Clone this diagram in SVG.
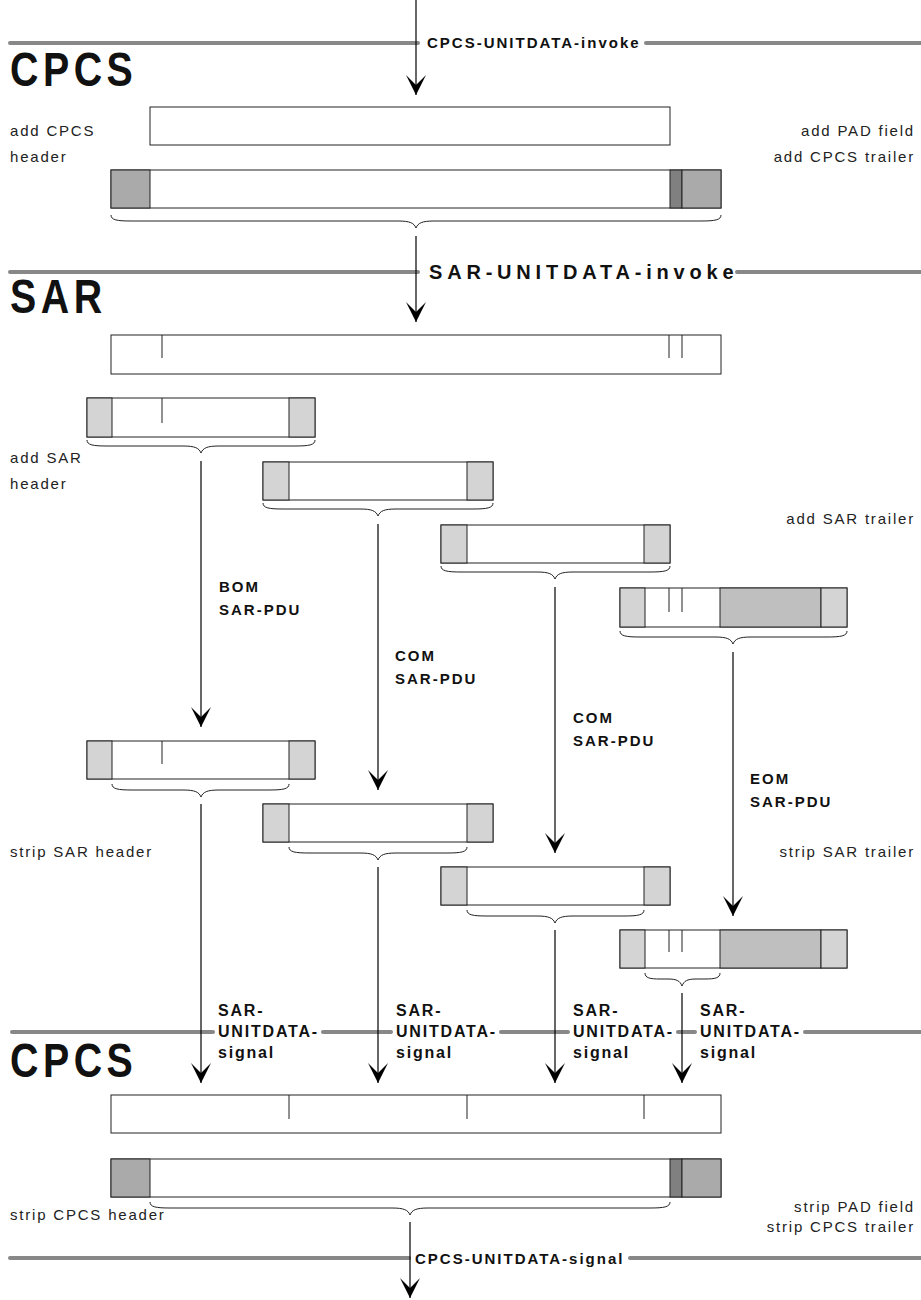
<svg xmlns="http://www.w3.org/2000/svg" width="921" height="1300" viewBox="0 0 921 1300">
<style>
.bg{fill:#fff}
.box{fill:#fff;stroke:#222;stroke-width:1}
.sh{fill:#d4d4d4;stroke:#222;stroke-width:1}
.ch{fill:#aaa;stroke:#222;stroke-width:1}
.pad{fill:#808080;stroke:#222;stroke-width:1}
.ep{fill:#bfbfbf;stroke:#222;stroke-width:1}
.tick{stroke:#222;stroke-width:1}
.brace{fill:none;stroke:#222;stroke-width:1}
.layer{stroke:#888;stroke-width:4;stroke-linecap:round}
.arr{stroke:#000;stroke-width:1.2;fill:none;marker-end:url(#ah)}
text{font-family:"Liberation Sans",Arial,Helvetica,sans-serif;fill:#111}
.lbl{font-size:15px;letter-spacing:1.8px;fill:#222}
.r{text-anchor:end}
.b{font-size:15px;font-weight:bold;letter-spacing:2px}
.s{font-size:16px;font-weight:bold;letter-spacing:1.8px}
.big{font-size:48px;font-weight:bold;letter-spacing:5.5px}
.sarinv{font-size:20px;font-weight:bold;letter-spacing:4.8px}
</style>
<defs>
<marker id="ah" markerUnits="userSpaceOnUse" markerWidth="22" markerHeight="22" viewBox="-21 -11 22 22" refX="0" refY="0" orient="auto">
<path d="M0,0 L-20,-10 L-10,0 L-20,10 Z" fill="#000"/>
</marker>
</defs>
<rect class="bg" x="0" y="0" width="921" height="1300"/>

<g id="layers">
<line class="layer" x1="10" y1="43" x2="418" y2="43"/>
<line class="layer" x1="646" y1="43" x2="921" y2="43"/>
<line class="layer" x1="10" y1="272" x2="418" y2="272"/>
<line class="layer" x1="737" y1="272" x2="921" y2="272"/>
<line class="layer" x1="12" y1="1032" x2="213" y2="1032"/>
<line class="layer" x1="323" y1="1032" x2="391" y2="1032"/>
<line class="layer" x1="501" y1="1032" x2="568" y2="1032"/>
<line class="layer" x1="678" y1="1032" x2="695" y2="1032"/>
<line class="layer" x1="805" y1="1032" x2="921" y2="1032"/>
<line class="layer" x1="10" y1="1258" x2="409" y2="1258"/>
<line class="layer" x1="630" y1="1258" x2="921" y2="1258"/>
</g>

<g id="layer-labels">
<text class="big" transform="translate(10,86) scale(0.82,1)">CPCS</text>
<text class="big" transform="translate(10,313) scale(0.82,1)">SAR</text>
<text class="big" transform="translate(10,1077) scale(0.82,1)">CPCS</text>
</g>

<g id="cpcs-sdu">
<rect class="box" x="150" y="107" width="520" height="38"/>
</g>
<g id="cpcs-pdu">
<rect class="box" x="111" y="170" width="610" height="38"/>
<rect class="ch" x="111" y="170" width="39" height="38"/>
<rect class="pad" x="670" y="170" width="12" height="38"/>
<rect class="ch" x="682" y="170" width="39" height="38"/>
</g>

<g id="sar-sdu">
<rect class="box" x="111" y="335" width="610" height="39"/>
<line class="tick" x1="162" y1="335" x2="162" y2="358"/>
<line class="tick" x1="669" y1="335" x2="669" y2="358"/>
<line class="tick" x1="682" y1="335" x2="682" y2="358"/>
</g>

<g id="bom-tx">
<rect class="box" x="87" y="398" width="228" height="39"/>
<rect class="sh" x="87" y="398" width="25" height="39"/>
<rect class="sh" x="289" y="398" width="26" height="39"/>
<line class="tick" x1="162" y1="398" x2="162" y2="423"/>
</g>
<g id="com1-tx">
<rect class="box" x="263" y="462" width="230" height="38"/>
<rect class="sh" x="263" y="462" width="26" height="38"/>
<rect class="sh" x="467" y="462" width="26" height="38"/>
</g>
<g id="com2-tx">
<rect class="box" x="441" y="525" width="229" height="38"/>
<rect class="sh" x="441" y="525" width="26" height="38"/>
<rect class="sh" x="644" y="525" width="26" height="38"/>
</g>
<g id="eom-tx">
<rect class="box" x="620" y="588" width="227" height="39"/>
<rect class="sh" x="620" y="588" width="25" height="39"/>
<rect class="ep" x="720" y="588" width="101" height="39"/>
<rect class="sh" x="821" y="588" width="26" height="39"/>
<line class="tick" x1="669" y1="588" x2="669" y2="612"/>
<line class="tick" x1="682" y1="588" x2="682" y2="612"/>
</g>

<g id="bom-rx">
<rect class="box" x="87" y="741" width="228" height="38"/>
<rect class="sh" x="87" y="741" width="25" height="38"/>
<rect class="sh" x="289" y="741" width="26" height="38"/>
<line class="tick" x1="162" y1="741" x2="162" y2="764"/>
</g>
<g id="com1-rx">
<rect class="box" x="263" y="804" width="230" height="38"/>
<rect class="sh" x="263" y="804" width="26" height="38"/>
<rect class="sh" x="467" y="804" width="26" height="38"/>
</g>
<g id="com2-rx">
<rect class="box" x="441" y="867" width="229" height="38"/>
<rect class="sh" x="441" y="867" width="26" height="38"/>
<rect class="sh" x="644" y="867" width="26" height="38"/>
</g>
<g id="eom-rx">
<rect class="box" x="620" y="930" width="227" height="38"/>
<rect class="sh" x="620" y="930" width="25" height="38"/>
<rect class="ep" x="720" y="930" width="101" height="38"/>
<rect class="sh" x="821" y="930" width="26" height="38"/>
<line class="tick" x1="669" y1="930" x2="669" y2="952"/>
<line class="tick" x1="682" y1="930" x2="682" y2="952"/>
</g>

<g id="cpcs-pdu-rx">
<rect class="box" x="111" y="1095" width="610" height="38"/>
<line class="tick" x1="289" y1="1095" x2="289" y2="1119"/>
<line class="tick" x1="467" y1="1095" x2="467" y2="1119"/>
<line class="tick" x1="644" y1="1095" x2="644" y2="1119"/>
</g>
<g id="cpcs-pdu-rx2">
<rect class="box" x="111" y="1159" width="610" height="38"/>
<rect class="ch" x="111" y="1159" width="39" height="38"/>
<rect class="pad" x="670" y="1159" width="12" height="38"/>
<rect class="ch" x="682" y="1159" width="39" height="38"/>
</g>

<g id="braces">
<path class="brace" d="M111 215 C111 220 117 221 131 221 L398 221 C410 221 414 223 416 228 C418 223 422 221 434 221 L701 221 C715 221 721 220 721 215"/>
<path class="brace" d="M87 440 C87 445 93 446 107 446 L183 446 C195 446 199 448 201 453 C203 448 207 446 219 446 L295 446 C309 446 315 445 315 440"/>
<path class="brace" d="M263 503 C263 508 269 509 283 509 L360 509 C372 509 376 511 378 516 C380 511 384 509 396 509 L473 509 C487 509 493 508 493 503"/>
<path class="brace" d="M441 566 C441 571 447 572 461 572 L537 572 C549 572 553 574 555 579 C557 574 561 572 573 572 L650 572 C664 572 670 571 670 566"/>
<path class="brace" d="M620 631 C620 636 626 637 640 637 L715 637 C727 637 731 639 733 644 C735 639 739 637 751 637 L827 637 C841 637 847 636 847 631"/>
<path class="brace" d="M112 784 C112 789 118 790 132 790 L183 790 C195 790 199 792 201 797 C203 792 207 790 219 790 L269 790 C283 790 289 789 289 784"/>
<path class="brace" d="M289 847 C289 852 295 853 309 853 L360 853 C372 853 376 855 378 860 C380 855 384 853 396 853 L447 853 C461 853 467 852 467 847"/>
<path class="brace" d="M467 910 C467 915 473 916 487 916 L537 916 C549 916 553 918 555 923 C557 918 561 916 573 916 L624 916 C638 916 644 915 644 910"/>
<path class="brace" d="M645 973 C645 978 650 979 660 979 L668 979 C677 979 680 981 682 986 C684 981 687 979 696 979 L705 979 C715 979 720 978 720 973"/>
<path class="brace" d="M150 1202 C150 1207 156 1208 170 1208 L392 1208 C404 1208 408 1210 410 1215 C412 1210 416 1208 428 1208 L650 1208 C664 1208 670 1207 670 1202"/>
</g>

<g id="connectors">
<line class="arr" x1="416" y1="0" x2="416" y2="95"/>
<line class="arr" x1="416" y1="236" x2="416" y2="322"/>
<line class="arr" x1="201" y1="461" x2="201" y2="727"/>
<line class="arr" x1="378" y1="524" x2="378" y2="790"/>
<line class="arr" x1="555" y1="587" x2="555" y2="853"/>
<line class="arr" x1="733" y1="652" x2="733" y2="916"/>
<line class="arr" x1="201" y1="804" x2="201" y2="1083"/>
<line class="arr" x1="378" y1="867" x2="378" y2="1083"/>
<line class="arr" x1="555" y1="930" x2="555" y2="1083"/>
<line class="arr" x1="682" y1="993" x2="682" y2="1083"/>
<line class="arr" x1="410" y1="1222" x2="410" y2="1298"/>
</g>

<g id="connector-labels">
<text class="b" x="427" y="48">CPCS-UNITDATA-invoke</text>
<text class="sarinv" x="429" y="279">SAR-UNITDATA-invoke</text>
<text class="b" x="219" y="592">BOM</text>
<text class="b" x="219" y="615">SAR-PDU</text>
<text class="b" x="395" y="661">COM</text>
<text class="b" x="395" y="684">SAR-PDU</text>
<text class="b" x="573" y="723">COM</text>
<text class="b" x="573" y="746">SAR-PDU</text>
<text class="b" x="750" y="784">EOM</text>
<text class="b" x="750" y="807">SAR-PDU</text>
<text class="s" x="218" y="1016">SAR-</text>
<text class="s" x="218" y="1037">UNITDATA-</text>
<text class="s" x="218" y="1058">signal</text>
<text class="s" x="396" y="1016">SAR-</text>
<text class="s" x="396" y="1037">UNITDATA-</text>
<text class="s" x="396" y="1058">signal</text>
<text class="s" x="573" y="1016">SAR-</text>
<text class="s" x="573" y="1037">UNITDATA-</text>
<text class="s" x="573" y="1058">signal</text>
<text class="s" x="700" y="1016">SAR-</text>
<text class="s" x="700" y="1037">UNITDATA-</text>
<text class="s" x="700" y="1058">signal</text>
<text class="b" x="415" y="1264">CPCS-UNITDATA-signal</text>
</g>

<g id="side-labels">
<text class="lbl" x="10" y="136">add CPCS</text>
<text class="lbl" x="10" y="162">header</text>
<text class="lbl r" x="915" y="136">add PAD field</text>
<text class="lbl r" x="915" y="162">add CPCS trailer</text>
<text class="lbl" x="10" y="463">add SAR</text>
<text class="lbl" x="10" y="489">header</text>
<text class="lbl r" x="915" y="524">add SAR trailer</text>
<text class="lbl" x="10" y="857">strip SAR header</text>
<text class="lbl r" x="915" y="857">strip SAR trailer</text>
<text class="lbl" x="10" y="1220">strip CPCS header</text>
<text class="lbl r" x="915" y="1212">strip PAD field</text>
<text class="lbl r" x="915" y="1232">strip CPCS trailer</text>
</g>
</svg>
